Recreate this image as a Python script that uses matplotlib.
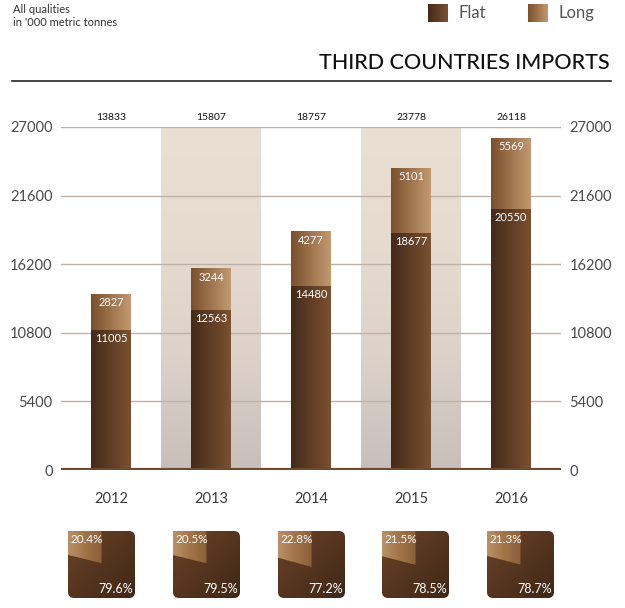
import numpy as np
import matplotlib
matplotlib.use("Agg")
import matplotlib.pyplot as plt
from matplotlib.colors import LinearSegmentedColormap
from matplotlib.patches import FancyBboxPatch, Polygon

plt.rcParams['font.family'] = ['Lato', 'DejaVu Sans']

# data
years = ['2012', '2013', '2014', '2015', '2016']
flat = [11005, 12563, 14480, 18677, 20550]
long_ = [2827, 3244, 4277, 5101, 5569]
totals = [13833, 15807, 18757, 23778, 26118]
flat_share = [79.6, 79.5, 77.2, 78.5, 78.7]
long_share = [20.4, 20.5, 22.8, 21.5, 21.3]
yticks = [0, 5400, 10800, 16200, 21600, 27000]

W, H = 625, 608
fig = plt.figure(figsize=(W / 100, H / 100), dpi=100)


def px_axes(x0, y0, x1, y1):
    # axes from pixel box (top-left origin)
    return fig.add_axes([x0 / W, 1 - y1 / H, (x1 - x0) / W, (y1 - y0) / H])


def cmap(cols):
    return LinearSegmentedColormap.from_list('g', cols)


def hgrad(ax, x0, x1, y0, y1, cols, z):
    return ax.imshow(np.linspace(0, 1, 256).reshape(1, -1), cmap=cmap(cols),
                     extent=[x0, x1, y0, y1], aspect='auto', zorder=z,
                     interpolation='bicubic')


flat_cols = ['#432a19', '#7b5131']
long_cols = ['#7a4f2d', '#c29a6f']

# ---- main chart
ax = px_axes(61, 127, 561, 470)
x = np.arange(len(years))
bw = 0.4

for i in [1, 3]:
    ax.imshow(np.linspace(0, 1, 256).reshape(-1, 1),
              cmap=cmap(['#e9dfd2', '#e6dbcf', '#dcd2ca', '#c8bfbc']),
              extent=[i - 0.5, i + 0.5, 0, 27000], aspect='auto', zorder=0)

for t in yticks[1:]:
    ax.axhline(t, color='#bdb2a8', lw=1, zorder=1)
ax.axhline(0, color='#6b4a2e', lw=3, zorder=5)

for i in range(len(years)):
    hgrad(ax, x[i] - bw / 2, x[i] + bw / 2, 0, flat[i], flat_cols, 3)
    hgrad(ax, x[i] - bw / 2, x[i] + bw / 2, flat[i], flat[i] + long_[i], long_cols, 3)
    ax.annotate(str(flat[i]), (x[i], flat[i]), xytext=(0, -6), textcoords='offset points',
                ha='center', va='center', color='white', fontsize=8, zorder=6)
    ax.annotate(str(long_[i]), (x[i], flat[i] + long_[i]), xytext=(0, -6),
                textcoords='offset points', ha='center', va='center',
                color='white', fontsize=8, zorder=6)
    ax.annotate(str(totals[i]), (x[i], 27000), xytext=(0, 7), textcoords='offset points',
                ha='center', va='center', color='#111111', fontsize=7.5)

ax.set_xlim(-0.5, 4.5)
ax.set_ylim(0, 27000)
ax.set_xticks(x)
ax.set_xticklabels(years, fontsize=10.5, color='#3a3a3a')
ax.tick_params(axis='x', length=0, pad=16)
ax.set_yticks(yticks)
ax.set_yticklabels([str(t) for t in yticks], fontsize=10.5, color='#4a4a4a')
ax.tick_params(axis='y', length=0, pad=6, labelright=True)
for s in ax.spines.values():
    s.set_visible(False)

# ---- header
fig.text(13 / W, 1 - 4 / H, "All qualities\nin '000 metric tonnes", fontsize=8,
         color='#333333', va='top', ha='left', linespacing=1.2)
fig.text(610 / W, 1 - 63 / H, 'THIRD COUNTRIES IMPORTS', fontsize=15.5,
         color='#111111', ha='right', va='center', fontweight='medium')
fig.add_artist(plt.Line2D([12 / W, 611 / W], [1 - 81 / H, 1 - 81 / H],
                          color='#222222', lw=1.2))

for lx, cols, lab in [(428, flat_cols, 'Flat'), (528, long_cols, 'Long')]:
    la = px_axes(lx, 4, lx + 20, 22)
    hgrad(la, 0, 1, 0, 1, cols, 1)
    la.set_xlim(0, 1)
    la.set_ylim(0, 1)
    la.axis('off')
    fig.text((lx + 30) / W, 1 - 13 / H, lab, fontsize=12, color='#555555',
             ha='left', va='center')

# ---- share boxes
box_x = [68, 173, 278, 382, 487]
for i in range(len(years)):
    ba = px_axes(box_x[i], 531, box_x[i] + 67, 598)
    ba.set_xlim(0, 1)
    ba.set_ylim(0, 1)
    ba.axis('off')
    clip = FancyBboxPatch((0, 0), 1, 1, boxstyle='round,pad=0,rounding_size=0.09',
                          transform=ba.transData, facecolor='none', edgecolor='none')
    ba.add_patch(clip)
    im = ba.imshow(np.add.outer(np.linspace(0, 1, 128), np.linspace(0, 1, 128)) / 2,
                   cmap=cmap(['#6a4426', '#563520', '#3f2715']),
                   extent=[0, 1, 0, 1], aspect='auto', zorder=1)
    im.set_clip_path(clip)
    s = long_share[i] / 100
    wedge = Polygon([(0, 1), (0.5, 1), (0.5, 1 - s * 2.35), (0, 1 - s * 1.75)],
                    closed=True, transform=ba.transData, facecolor='none', edgecolor='none')
    ba.add_patch(wedge)
    wi = hgrad(ba, 0, 0.5, 0, 1, ['#bb9167', '#a27549', '#8a5f38'], 2)
    wi.set_clip_path(wedge)
    ba.text(0.03, 0.96, f'{long_share[i]}%', color='white', fontsize=8.5,
            ha='left', va='top', zorder=3)
    ba.text(0.97, 0.05, f'{flat_share[i]}%', color='white', fontsize=9,
            ha='right', va='bottom', zorder=3)

fig.savefig('out.png', dpi=100)
